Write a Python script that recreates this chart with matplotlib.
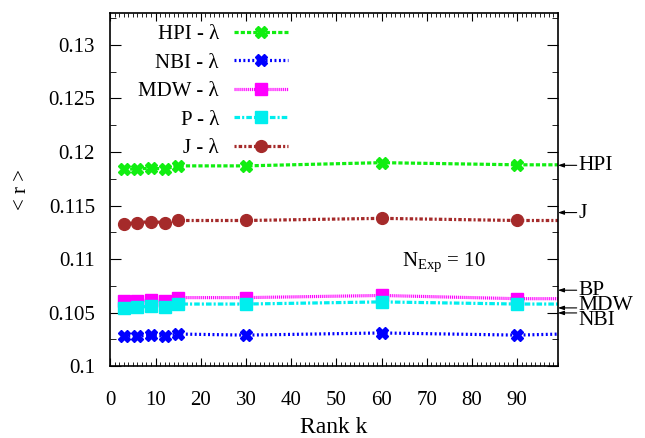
import matplotlib
matplotlib.use("Agg")
import matplotlib.pyplot as plt

plt.rcParams['font.family'] = ['Liberation Serif', 'DejaVu Serif']
plt.rcParams['mathtext.fontset'] = 'custom'
plt.rcParams['mathtext.rm'] = 'Liberation Serif'
plt.rcParams['lines.scale_dashes'] = False

# rank k (last point only carries the line to the frame edge, no marker)
rank = [3, 6, 9, 12, 15, 30, 60, 90, 100]

hpi = [0.1184, 0.1184, 0.1185, 0.1184, 0.1187, 0.1187, 0.1190, 0.1188, 0.1188]
nbi = [0.1028, 0.1028, 0.1029, 0.1028, 0.1030, 0.1029, 0.1031, 0.1029, 0.1030]
mdw = [0.1061, 0.1061, 0.1062, 0.1061, 0.1064, 0.1064, 0.1066, 0.1063, 0.1063]
p = [0.1054, 0.1055, 0.1056, 0.1055, 0.1058, 0.1058, 0.1060, 0.1058, 0.1058]
j = [0.1133, 0.1134, 0.1135, 0.1134, 0.1136, 0.1136, 0.1138, 0.1136, 0.1136]

series_labels = ["HPI - λ", "NBI - λ", "MDW - λ", "P - λ", "J - λ"]

# baseline values marked on the right axis
ref_labels = ["HPI", "J", "BP", "MDW", "NBI"]
ref_values = [0.11875, 0.11434, 0.10709, 0.10544, 0.10497]
ref_text_dy = [0, -1, 0, 1.5, -5.5]   # label nudges in points

fig = plt.figure(figsize=(6.45, 4.38), dpi=100)
ax = fig.add_axes([0.171, 0.164, 0.694, 0.807])

styles = [
    (hpi, '#11ee11', (0, (3, 1.5)), 'X', 9),
    (nbi, '#0000ff', (0, (1.4, 1.8)), 'X', 9),
    (mdw, '#ff00ff', (0, (0.8, 0.6)), 's', 8),
    (p, '#00eeee', (0, (4, 1.5, 1.5, 1.5)), 's', 8),
    (j, '#a52a2a', (0, (1.5, 1.5, 2.5, 1.5)), 'o', 8.5),
]

handles = []
for (vals, col, dash, mk, ms), lab in zip(styles, series_labels):
    ln, = ax.plot(rank, vals, color=col, linestyle=dash, linewidth=2.3,
                  marker=mk, markersize=ms, markevery=list(range(len(rank) - 1)),
                  label=lab)
    handles.append(ln)

ax.set_xlim(0, 99)
ax.set_ylim(0.1, 0.133)
ax.set_xticks(range(0, 100, 10))
ax.set_xticks(range(0, 100, 1), minor=True)
ax.set_yticks([0.1, 0.105, 0.11, 0.115, 0.12, 0.125, 0.13])
ax.set_yticklabels(["0.1", "0.105", "0.11", "0.115", "0.12", "0.125", "0.13"])
ax.set_yticks([0.1025 + 0.005 * i for i in range(7)], minor=True)
ax.tick_params(which='both', direction='in', top=True, right=True, labelsize=15)
ax.tick_params(axis='y', which='major', length=8, pad=11)
ax.tick_params(axis='y', which='minor', length=4.5)
ax.tick_params(axis='x', which='major', length=6, pad=18)
ax.tick_params(axis='x', which='minor', length=3)
for s in ax.spines.values():
    s.set_linewidth(1.2)

ax.set_xlabel("Rank k", fontsize=17, labelpad=5)
ax.set_ylabel("< r >", fontsize=15, labelpad=12)

ax.text(64.5, 0.1093, r"N$_{\mathregular{Exp}}$ = 10", fontsize=15, va='baseline')

for lab, v, dy in zip(ref_labels, ref_values, ref_text_dy):
    ax.annotate('', xy=(1.0, v), xycoords=('axes fraction', 'data'),
                xytext=(13.5, 0), textcoords='offset points',
                arrowprops=dict(arrowstyle='-|>,head_length=0.35,head_width=0.12',
                                color='black', lw=0.8, shrinkA=0, shrinkB=0),
                annotation_clip=False)
    ax.annotate(lab, xy=(1.0, v), xycoords=('axes fraction', 'data'),
                xytext=(15, dy), textcoords='offset points',
                fontsize=15.5, va='center', ha='left', annotation_clip=False)

ax.legend(handles=handles, loc='upper left', bbox_to_anchor=(0.03, 1.008),
          frameon=False, markerfirst=False, fontsize=15, handlelength=2.6,
          handletextpad=0.7, labelspacing=0.43, borderaxespad=0.3)

fig.savefig("out.png", dpi=100)
